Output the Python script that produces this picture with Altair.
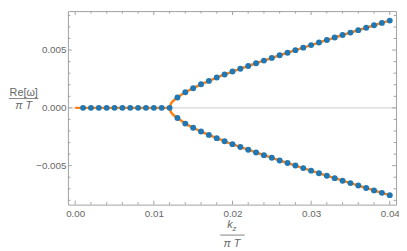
import altair as alt
import pandas as pd

# ---- data ----
k_flat = [0.001, 0.002, 0.003, 0.004, 0.005, 0.006, 0.007, 0.008, 0.009, 0.010, 0.011, 0.012]
re_flat = [0, 0, 0, 0, 0, 0, 0, 0, 0, 0, 0, 0]

k_branch = [0.013, 0.014, 0.015, 0.016, 0.017, 0.018, 0.019, 0.020, 0.021, 0.022,
            0.023, 0.024, 0.025, 0.026, 0.027, 0.028, 0.029, 0.030, 0.031, 0.032,
            0.033, 0.034, 0.035, 0.036, 0.037, 0.038, 0.039, 0.040]
re_upper = [0.00089, 0.00135, 0.00170, 0.00204, 0.00233, 0.00262, 0.00289, 0.00314, 0.00338, 0.00362,
            0.00386, 0.00409, 0.00432, 0.00455, 0.00477, 0.00499, 0.00521, 0.00543, 0.00565, 0.00587,
            0.00608, 0.00630, 0.00651, 0.00672, 0.00693, 0.00714, 0.00735, 0.00755]
re_lower = [-0.00088, -0.00136, -0.00172, -0.00205, -0.00234, -0.00262, -0.00289, -0.00314, -0.00338, -0.00362,
            -0.00386, -0.00409, -0.00432, -0.00455, -0.00477, -0.00499, -0.00521, -0.00543, -0.00565, -0.00587,
            -0.00608, -0.00630, -0.00651, -0.00672, -0.00693, -0.00714, -0.00735, -0.00755]

# analytic curve (orange): zero branch and the start of the two branches
line_k_zero = [0.0, 0.01205]
line_re_zero = [0.0, 0.0]
line_k_start = [0.01205, 0.0121, 0.0123, 0.0126]
line_re_start_up = [0.0, 0.00022, 0.00048, 0.00068]
line_re_start_dn = [0.0, -0.00022, -0.00048, -0.00068]

x_major = [0.00, 0.01, 0.02, 0.03, 0.04]
x_minor = [0.002, 0.004, 0.006, 0.008, 0.012, 0.014, 0.016, 0.018,
           0.022, 0.024, 0.026, 0.028, 0.032, 0.034, 0.036, 0.038]
y_major = [-0.005, 0.0, 0.005]
y_minor = [-0.008, -0.007, -0.006, -0.004, -0.003, -0.002, -0.001,
           0.001, 0.002, 0.003, 0.004, 0.006, 0.007, 0.008]

# ---- frames ----
W, H = 334, 197
FRAME = "#a0a0a0"
LABEL = "#666666"
FONT = "Liberation Sans"

xscale = alt.Scale(domain=[-0.000925, 0.0408], nice=False, zero=False)
yscale = alt.Scale(domain=[-0.00837, 0.00837], nice=False, zero=False)

dots = pd.DataFrame({
    "k": k_flat + k_branch + k_branch,
    "re": re_flat + re_upper + re_lower,
})
lines = pd.DataFrame({
    "k": line_k_zero + line_k_start + k_branch + line_k_start + k_branch,
    "re": line_re_zero + line_re_start_up + re_upper + line_re_start_dn + re_lower,
    "branch": ["zero"] * len(line_k_zero)
              + ["up"] * (len(line_k_start) + len(k_branch))
              + ["down"] * (len(line_k_start) + len(k_branch)),
})

# invisible layer that carries the labelled axes
axes_layer = alt.Chart(dots).mark_point(opacity=0).encode(
    x=alt.X("k:Q", scale=xscale, axis=alt.Axis(
        values=x_major, format=".2f", ticks=False, domain=False, grid=False,
        title=None, labelPadding=4, labelColor=LABEL, labelFont=FONT, labelFontSize=10)),
    y=alt.Y("re:Q", scale=yscale, axis=alt.Axis(
        values=y_major, format=".3f", ticks=False, domain=False, grid=False,
        title=None, labelPadding=2, labelColor=LABEL, labelFont=FONT, labelFontSize=10)),
)

zero_line = alt.Chart(pd.DataFrame({"re": [0.0]})).mark_rule(
    color="#cccccc", strokeWidth=1
).encode(y=alt.Y("re:Q", scale=yscale, axis=None))

curve = alt.Chart(lines).mark_line(
    color="#ff7f0e", strokeWidth=2.5, interpolate="monotone"
).encode(
    x=alt.X("k:Q", scale=xscale, axis=None),
    y=alt.Y("re:Q", scale=yscale, axis=None),
    detail="branch:N",
)

points = alt.Chart(dots).mark_circle(size=36, color="#1f77b4", opacity=1).encode(
    x=alt.X("k:Q", scale=xscale, axis=None),
    y=alt.Y("re:Q", scale=yscale, axis=None),
)

def xticks(vals, length):
    d = pd.DataFrame({"v": vals})
    bottom = alt.Chart(d).mark_rule(color=FRAME, strokeWidth=1).encode(
        x=alt.X("v:Q", scale=xscale, axis=None), y=alt.value(H), y2=alt.value(H - length))
    top = alt.Chart(d).mark_rule(color=FRAME, strokeWidth=1).encode(
        x=alt.X("v:Q", scale=xscale, axis=None), y=alt.value(0), y2=alt.value(length))
    return [bottom, top]

def yticks(vals, length):
    d = pd.DataFrame({"v": vals})
    left = alt.Chart(d).mark_rule(color=FRAME, strokeWidth=1).encode(
        y=alt.Y("v:Q", scale=yscale, axis=None), x=alt.value(0), x2=alt.value(length))
    right = alt.Chart(d).mark_rule(color=FRAME, strokeWidth=1).encode(
        y=alt.Y("v:Q", scale=yscale, axis=None), x=alt.value(W), x2=alt.value(W - length))
    return [left, right]

tick_layers = xticks(x_major, 4) + xticks(x_minor, 2.5) + yticks(y_major, 4) + yticks(y_minor, 2.5)

one = pd.DataFrame({"a": [0]})

def label(text, x, y, size=11, style="normal", align="center"):
    return alt.Chart(one).mark_text(
        text=text, font=FONT, fontSize=size, fontStyle=style, color=LABEL,
        align=align, baseline="alphabetic"
    ).encode(x=alt.value(x), y=alt.value(y))

def bar(x1, x2, y):
    return alt.Chart(one).mark_rule(color=LABEL, strokeWidth=0.8).encode(
        x=alt.value(x1), x2=alt.value(x2), y=alt.value(y))

titles = [
    label("Re[ω]", -45, 86),
    bar(-60, -30, 89),
    label("π T", -45, 100, style="italic"),
    label("k", 165, 221, style="italic"),
    label("z", 169.5, 223.5, size=8, style="italic"),
    bar(155, 180, 228),
    label("π T", 167, 240, style="italic"),
]

chart = alt.layer(
    axes_layer, zero_line, curve, points, *tick_layers, *titles
).resolve_axis(
    x="independent", y="independent"
).properties(
    width=W, height=H,
    autosize=alt.AutoSizeParams(type="none"),
    padding={"left": 61, "top": 1, "right": 3, "bottom": 42},
).configure_view(stroke=FRAME, strokeWidth=1)

chart.save("out.html", embed_options={"renderer": "svg", "actions": False})
